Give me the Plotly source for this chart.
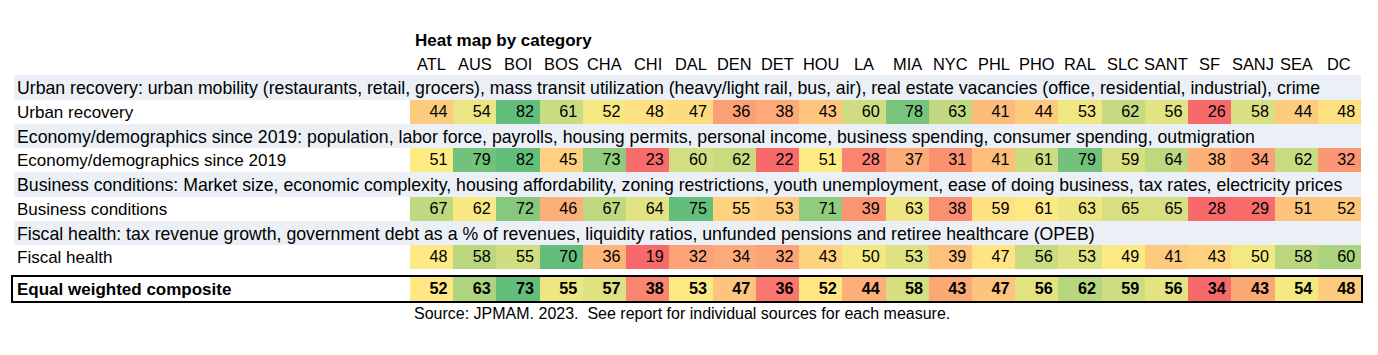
import numpy as np
import plotly.graph_objects as go

cities = ["ATL", "AUS", "BOI", "BOS", "CHA", "CHI", "DAL", "DEN", "DET", "HOU", "LA",
          "MIA", "NYC", "PHL", "PHO", "RAL", "SLC", "SANT", "SF", "SANJ", "SEA", "DC"]

row_labels = ["Urban recovery", "Economy/demographics since 2019", "Business conditions",
              "Fiscal health", "Equal weighted composite"]
row_descriptions = [
    "Urban recovery: urban mobility (restaurants, retail, grocers), mass transit utilization (heavy/light rail, bus, air), real estate vacancies (office, residential, industrial), crime",
    "Economy/demographics since 2019: population, labor force, payrolls, housing permits, personal income, business spending, consumer spending, outmigration",
    "Business conditions: Market size, economic complexity, housing affordability, zoning restrictions, youth unemployment, ease of doing business, tax rates, electricity prices",
    "Fiscal health: tax revenue growth, government debt as a % of revenues, liquidity ratios, unfunded pensions and retiree healthcare (OPEB)",
]

urban_recovery = [44, 54, 82, 61, 52, 48, 47, 36, 38, 43, 60, 78, 63, 41, 44, 53, 62, 56, 26, 58, 44, 48]
economy = [51, 79, 82, 45, 73, 23, 60, 62, 22, 51, 28, 37, 31, 41, 61, 79, 59, 64, 38, 34, 62, 32]
business = [67, 62, 72, 46, 67, 64, 75, 55, 53, 71, 39, 63, 38, 59, 61, 63, 65, 65, 28, 29, 51, 52]
fiscal = [48, 58, 55, 70, 36, 19, 32, 34, 32, 43, 50, 53, 39, 47, 56, 53, 49, 41, 43, 50, 58, 60]
composite = [52, 63, 73, 55, 57, 38, 53, 47, 36, 52, 44, 58, 43, 47, 56, 62, 59, 56, 34, 43, 54, 48]

title_text = "Heat map by category"
source_text = "Source: JPMAM. 2023.  See report for individual sources for each measure."

series = [urban_recovery, economy, business, fiscal, composite]

# layout (pixel positions)
W, H = 1378, 355
col_left, col_right = 410, 1361
band_left = 14
value_rows = [(100, 124), (148, 172), (197, 221), (245, 269), (277, 301)]
desc_rows = [(75, 100), (124, 148), (172, 197), (221, 245)]

RED, YEL, GRN = "#F8696B", "#FFEB84", "#63BE7B"
FONT = "Liberation Sans, Arial, sans-serif"

fig = go.Figure()
xs = list(range(len(cities)))

for vals, (y0, y1), lab in zip(series, value_rows, row_labels):
    arr = np.array(vals, dtype=float)
    lo, hi, med = arr.min(), arr.max(), np.median(arr)
    mid = (med - lo) / (hi - lo)
    fig.add_trace(go.Heatmap(
        z=[vals], x=xs, y=[y0, y1],
        zmin=lo, zmax=hi,
        colorscale=[[0, RED], [mid, YEL], [1, GRN]],
        showscale=False, hoverinfo="skip", xgap=0, ygap=0,
    ))
    bold = lab == "Equal weighted composite"
    fig.add_trace(go.Scatter(
        x=[i + 0.37 for i in xs], y=[(y0 + y1) / 2 + 0.5] * len(xs),
        mode="text", text=[f"<b>{v}</b>" if bold else str(v) for v in vals],
        textposition="middle left",
        textfont=dict(family=FONT, size=16.2, color="black"),
        hoverinfo="skip", showlegend=False,
    ))

shapes = []
for (y0, y1) in desc_rows:
    shapes.append(dict(type="rect", xref="paper", yref="y",
                       x0=band_left / W, x1=col_right / W, y0=y0, y1=y1,
                       fillcolor="#EAF0F5", line=dict(width=0), layer="below"))
cy0, cy1 = value_rows[-1]
shapes.append(dict(type="rect", xref="paper", yref="y",
                   x0=12 / W, x1=1362 / W, y0=cy0 - 1, y1=cy1 + 1,
                   fillcolor="rgba(0,0,0,0)", line=dict(width=2, color="black"), layer="above"))

annotations = []
for desc, (y0, y1) in zip(row_descriptions, desc_rows):
    annotations.append(dict(text=desc, xref="paper", yref="y", x=15 / W, y=(y0 + y1) / 2 + 0.5,
                            xanchor="left", yanchor="middle", showarrow=False,
                            font=dict(family=FONT, size=17.7, color="black")))
for lab, (y0, y1) in zip(row_labels, value_rows):
    t = f"<b>{lab}</b>" if lab == "Equal weighted composite" else lab
    annotations.append(dict(text=t, xref="paper", yref="y", x=15 / W, y=(y0 + y1) / 2 + 0.5,
                            xanchor="left", yanchor="middle", showarrow=False,
                            font=dict(family=FONT, size=17, color="black")))
for i, c in enumerate(cities):
    annotations.append(dict(text=c, xref="x", yref="y", x=i, y=64,
                            xanchor="center", yanchor="middle", showarrow=False,
                            font=dict(family=FONT, size=16.4, color="black")))
annotations.append(dict(text=f"<b>{title_text}</b>", xref="paper", yref="y", x=413 / W, y=40,
                        xanchor="left", yanchor="middle", showarrow=False,
                        font=dict(family=FONT, size=17, color="black")))
annotations.append(dict(text=source_text, xref="paper", yref="y", x=412 / W, y=313,
                        xanchor="left", yanchor="middle", showarrow=False,
                        font=dict(family=FONT, size=16, color="black")))

fig.update_layout(
    width=W, height=H, autosize=False,
    margin=dict(l=0, r=0, t=0, b=0),
    paper_bgcolor="white", plot_bgcolor="white",
    showlegend=False,
    xaxis=dict(domain=[col_left / W, col_right / W], range=[-0.5, len(cities) - 0.5],
               showgrid=False, zeroline=False, showticklabels=False, fixedrange=True),
    yaxis=dict(domain=[0, 1], range=[H, 0], showgrid=False, zeroline=False,
               showticklabels=False, fixedrange=True),
    shapes=shapes, annotations=annotations,
)

fig.write_html("out.html", config={"displayModeBar": False})
